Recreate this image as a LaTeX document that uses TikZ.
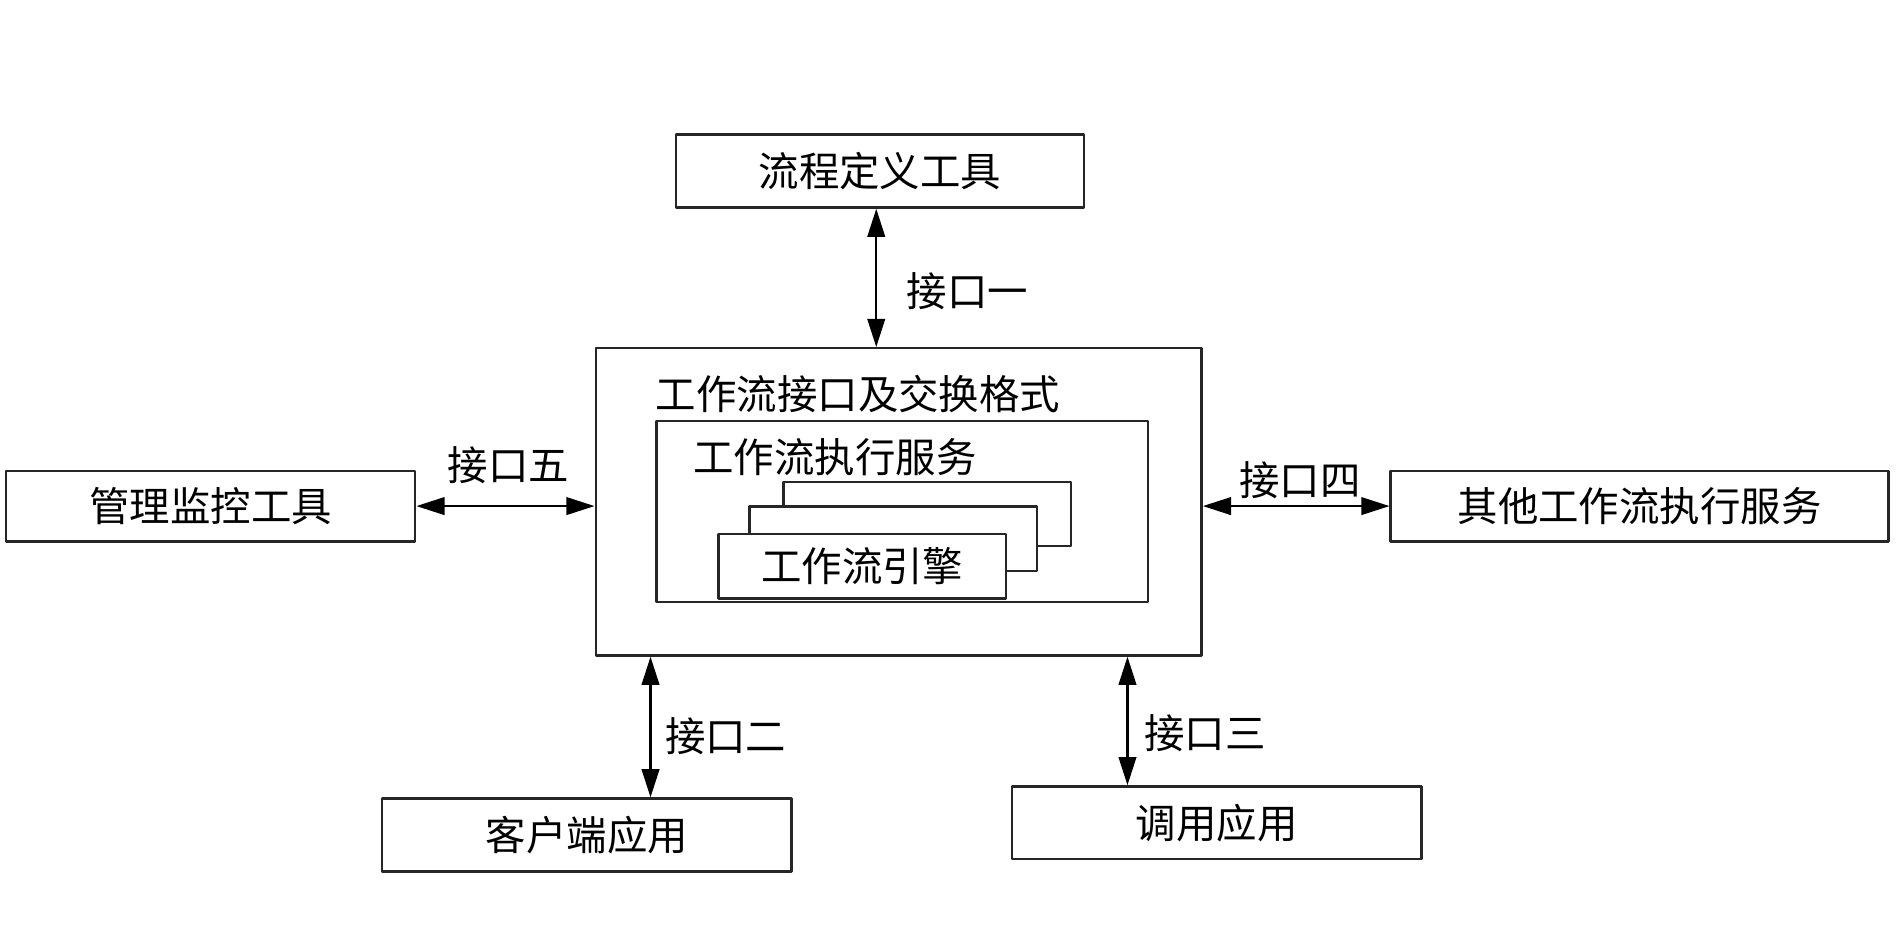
\documentclass[tikz,border=0pt]{standalone}
\usepackage{fontspec}
\setmainfont{Noto Sans CJK SC}
\usetikzlibrary{arrows.meta}
\tikzset{
	box/.style={draw=black!85,line width=0.7pt,fill=white,inner sep=0pt},
	tag/.style={inner sep=1pt}
}
\begin{document}
\begin{tikzpicture}[x=0.012137cm,y=-0.012137cm,>={Triangle[length=8pt,width=5pt]},line join=round,font=\fontsize{11.5}{13}\selectfont]
	\useasboundingbox (0,0) rectangle (1568,775);
	\path
	(536,0) coordinate (p2)
	(929,0) coordinate (p3);
	\node[box,minimum width=4.078cm,minimum height=0.728cm] (define) at (725,141) {流程定义工具};
	\node[box,minimum width=6.056cm,minimum height=3.071cm] (main) at (740.5,413.5) {};
	\node[tag] (maintitle) at (707,325) {工作流接口及交换格式};
	\node[box,minimum width=4.915cm,minimum height=1.808cm] (service) at (743.5,421.5) {};
	\node[tag] (servicetitle) at (688,377) {工作流执行服务};
	\node[box,minimum width=2.876cm,minimum height=0.643cm] (engC) at (764,423.5) {};
	\node[box,minimum width=2.876cm,minimum height=0.643cm] (engB) at (736,444) {};
	\node[box,minimum width=2.876cm,minimum height=0.643cm] (engA) at (710.5,466.5) {工作流引擎};
	\node[box,minimum width=4.090cm,minimum height=0.704cm] (monitor) at (173.5,417) {管理监控工具};
	\node[box,minimum width=4.976cm,minimum height=0.704cm] (other) at (1351,417) {其他工作流执行服务};
	\node[box,minimum width=4.090cm,minimum height=0.728cm] (client) at (483.5,688) {客户端应用};
	\node[box,minimum width=4.090cm,minimum height=0.728cm] (invoke) at (1002.5,678) {调用应用};
	\draw[<->,line width=0.6pt] (define.south -| 722,0) -- (main.north -| 722,0);
	\draw[<->,line width=0.6pt] (monitor.east) -- (monitor.east -| main.west);
	\draw[<->,line width=0.6pt] (main.east |- other.west) -- (other.west);
	\draw[<->,line width=0.6pt] (p2 |- main.south) -- (p2 |- client.north);
	\draw[<->,line width=0.6pt] (p3 |- main.south) -- (p3 |- invoke.north);
	\node[tag] (if1) at (797,240) {接口一};
	\node[tag] (if5) at (419,383) {接口五};
	\node[tag] (if4) at (1071,396) {接口四};
	\node[tag] (if2) at (598,607) {接口二};
	\node[tag] (if3) at (993,604) {接口三};
\end{tikzpicture}
\end{document}
